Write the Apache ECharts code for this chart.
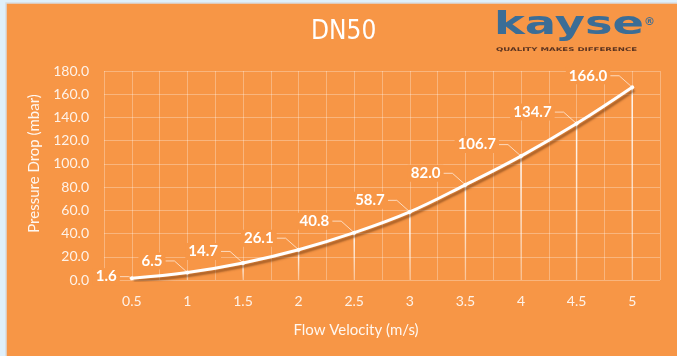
<!DOCTYPE html>
<html>
<head>
<meta charset="utf-8">
<script src="https://cdn.jsdelivr.net/npm/echarts@6/dist/echarts.min.js"></script>
<style>
  html, body { margin: 0; padding: 0; background: #dff0fb; }
  #chart { width: 677px; height: 356px; }
</style>
</head>
<body>
<div id="chart"></div>
<script>
// Flow velocity (m/s) against pressure drop (mbar) for a DN50 line
const velocities = [0.5, 1, 1.5, 2, 2.5, 3, 3.5, 4, 4.5, 5];
const pressureDrop = [1.6, 6.5, 14.7, 26.1, 40.8, 58.7, 82.0, 106.7, 134.7, 166.0];
const titleText = 'DN50';
const xAxisTitle = 'Flow Velocity (m/s)';
const yAxisTitle = 'Pressure Drop (mbar)';

const ORANGE = '#F79646';
const points = velocities.map((v, i) => [v, pressureDrop[i]]);

const chart = echarts.init(document.getElementById('chart'), null, { renderer: 'canvas' });

chart.setOption({
  backgroundColor: '#dff0fb',
  animation: false,
  textStyle: { fontFamily: 'Lato, "Open Sans", sans-serif' },
  graphic: [
    { type: 'rect', z: -10, shape: { x: 6, y: 3, width: 680, height: 360 },
      style: { fill: ORANGE, stroke: '#d8dde2', lineWidth: 1.5 } },
    { type: 'text', x: 311, y: 19, z: 10,
      style: { text: titleText, fill: '#ffffff', font: '26px "DejaVu Sans Condensed", "DejaVu Sans", sans-serif' } },
    // brand mark
    { type: 'text', x: 494, y: 10, z: 10, scaleX: 1.45,
      style: { text: 'kayse', fill: '#3b6d96', font: 'bold 32px "DejaVu Sans", sans-serif' } },
    { type: 'text', x: 644, y: 17, z: 10,
      style: { text: '®', fill: '#3b6d96', font: 'bold 11px "DejaVu Sans", sans-serif' } },
    { type: 'text', x: 496, y: 47, z: 10, scaleX: 1.72,
      style: { text: 'QUALITY MAKES DIFFERENCE', fill: '#5a3320', font: 'bold 5px "DejaVu Sans", sans-serif' } }
  ],
  grid: { left: 104, right: 17, top: 71, bottom: 76 },
  xAxis: {
    type: 'value',
    min: 0.25, max: 5.25, interval: 0.25,
    name: xAxisTitle,
    nameLocation: 'middle',
    nameGap: 43,
    nameTextStyle: { color: 'rgba(255,255,255,0.92)', fontSize: 15, padding: [0, 52, 0, 0] },
    axisLine: { show: false },
    axisTick: { show: false },
    axisLabel: {
      color: 'rgba(255,255,255,0.88)', fontSize: 14, margin: 14,
      formatter: v => (Math.abs(v * 2 - Math.round(v * 2)) < 1e-6 ? String(v) : '')
    },
    splitLine: { show: true, lineStyle: { color: 'rgba(255,255,255,0.3)', width: 1 } }
  },
  yAxis: {
    type: 'value',
    min: 0, max: 180, interval: 20,
    name: yAxisTitle,
    nameLocation: 'middle',
    nameGap: 62,
    nameTextStyle: { color: 'rgba(255,255,255,0.92)', fontSize: 15, padding: [0, 0, 0, 24] },
    axisLine: { show: false },
    axisTick: { show: false },
    axisLabel: { color: 'rgba(255,255,255,0.88)', fontSize: 14, margin: 15, formatter: v => v.toFixed(1) },
    splitLine: { show: true, lineStyle: { color: 'rgba(255,255,255,0.3)', width: 1 } }
  },
  series: [
    {
      // drop lines from each point to the axis
      type: 'bar',
      data: points,
      barWidth: 1.5,
      silent: true,
      z: 1,
      itemStyle: {
        color: new echarts.graphic.LinearGradient(0, 0, 0, 1, [
          { offset: 0, color: 'rgba(255,255,255,0.95)' },
          { offset: 1, color: 'rgba(255,255,255,0.2)' }
        ])
      }
    },
    {
      type: 'line',
      data: points,
      smooth: 0.4,
      z: 3,
      symbol: 'circle',
      symbolSize: 4,
      itemStyle: { color: '#ffffff' },
      lineStyle: {
        color: '#ffffff', width: 3,
        shadowColor: 'rgba(110,55,15,0.55)', shadowBlur: 2, shadowOffsetX: 2, shadowOffsetY: 3
      },
      label: {
        show: true,
        position: 'top',
        distance: 5,
        color: '#ffffff',
        fontSize: 15,
        fontWeight: 'bold',
        backgroundColor: ORANGE,
        padding: [1, 3],
        formatter: p => p.value[1].toFixed(1)
      },
      labelLine: {
        show: true,
        length2: 9,
        lineStyle: { color: 'rgba(255,255,255,0.65)', width: 1 }
      },
      labelLayout: p => {
        const w = p.labelRect.width;
        if (p.dataIndex === 0) return { dx: -(w / 2 + 12), dy: 14 };
        return { dx: -(w / 2 + 22), dy: 4 };
      }
    }
  ]
});
</script>
</body>
</html>
